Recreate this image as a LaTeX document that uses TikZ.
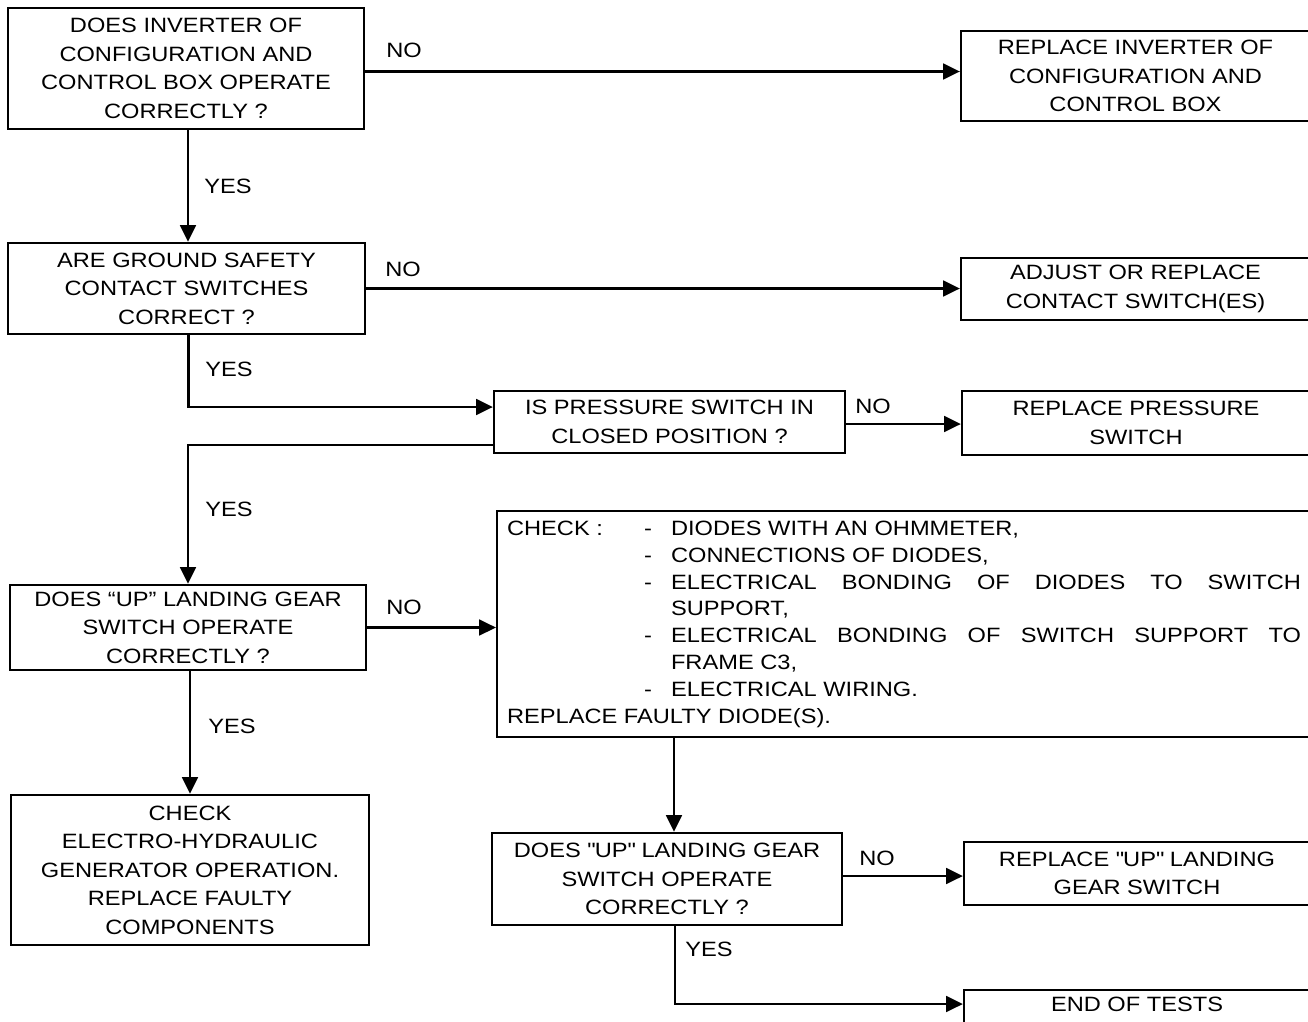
\documentclass[tikz,border=0pt]{standalone}
\usepackage{fontspec}
\setmainfont{Liberation Sans}[FakeStretch=1.14]
\usepackage{array}
\usetikzlibrary{arrows.meta, positioning, calc}
\newcommand{\boxfont}{\fontsize{11.8}{16.2}\selectfont}
\newcommand{\sq}{\XeTeXglyph\XeTeXcharglyph"22\relax} % straight double quote
\tikzset{
x=0.02cm, y=-0.02cm, % one unit is one pixel of the drawing, y runs down
>={Triangle[length=9.5pt,width=9pt]}, % filled arrow heads
every path/.style={line width=1.35pt},
box/.style={draw, rectangle, align=center, inner sep=0pt, line width=1.35pt, font=\boxfont}, % every framed step
answer/.style={font=\boxfont, inner sep=0pt}, % YES / NO next to a connector
}

\begin{document}
\begin{tikzpicture}
  \fill[white] (0,0) rectangle (1308,1021);
  \useasboundingbox (0,0) rectangle (1308,1021);

  \node[box, minimum width=7.12cm, minimum height=2.42cm] (q1) at (186,68.5)
    {DOES INVERTER OF\\CONFIGURATION AND\\CONTROL BOX OPERATE\\CORRECTLY ?};
  \node[box, minimum width=6.98cm, minimum height=1.8cm] (r1) at (1135.5,76)
    {REPLACE INVERTER OF\\CONFIGURATION AND\\CONTROL BOX};
  \node[box, minimum width=7.14cm, minimum height=1.82cm] (q2) at (186.5,288.5)
    {ARE GROUND SAFETY\\CONTACT SWITCHES\\CORRECT ?};
  \node[box, minimum width=6.98cm, minimum height=1.24cm] (r2) at (1135.5,289)
    {ADJUST OR REPLACE\\CONTACT SWITCH(ES)};
  \node[box, minimum width=7.02cm, minimum height=1.24cm] (q3) at (669.5,422)
    {IS PRESSURE SWITCH IN\\CLOSED POSITION ?};
  \node[box, minimum width=6.96cm, minimum height=1.28cm] (r3) at (1136,423)
    {REPLACE PRESSURE\\SWITCH};
  \node[box, minimum width=7.12cm, minimum height=1.70cm] (q4) at (188,627.5)
    {DOES ``UP'' LANDING GEAR\\SWITCH OPERATE\\CORRECTLY ?};
  \node[box, minimum width=16.28cm, minimum height=4.52cm] (chk) at (904,624)
    {\fontsize{11.8}{15.3}\selectfont\renewcommand\arraystretch{1}%
     \begin{tabular}{@{}p{2.74cm}@{}p{0.54cm}@{}p{12.6cm}@{}}
     CHECK : & - & DIODES WITH AN OHMMETER,\\
             & - & CONNECTIONS OF DIODES,\\
             & - & ELECTRICAL BONDING OF DIODES TO SWITCH\linebreak SUPPORT,\\
             & - & ELECTRICAL BONDING OF SWITCH SUPPORT TO\linebreak FRAME C3,\\
             & - & ELECTRICAL WIRING.\\
     \multicolumn{3}{@{}l@{}}{REPLACE FAULTY DIODE(S).}
     \end{tabular}};
  \node[box, minimum width=7.16cm, minimum height=3.0cm] (gen) at (190,870)
    {CHECK\\ELECTRO-HYDRAULIC\\GENERATOR OPERATION.\\REPLACE FAULTY\\COMPONENTS};
  \node[box, minimum width=7.0cm, minimum height=1.84cm] (q5) at (667,879)
    {DOES \sq UP\sq{} LANDING GEAR\\SWITCH OPERATE\\CORRECTLY ?};
  \node[box, minimum width=6.92cm, minimum height=1.26cm] (r5) at (1137,873.5)
    {REPLACE \sq UP\sq{} LANDING\\GEAR SWITCH};
  \node[box, minimum width=6.92cm, minimum height=0.68cm, text depth=3.4pt] (end) at (1137,1007)
    {END OF TESTS};

  \node[answer] (no1) at (404,50) {NO};
  \node[answer] (yes1) at (228,186) {YES};
  \node[answer] (no2) at (403,269) {NO};
  \node[answer] (yes2) at (229,369) {YES};
  \node[answer] (no3) at (873,406) {NO};
  \node[answer] (yes3) at (229,509) {YES};
  \node[answer] (no4) at (404,607) {NO};
  \node[answer] (yes4) at (232,726) {YES};
  \node[answer] (no5) at (877,858) {NO};
  \node[answer] (yes5) at (709,949) {YES};

  \draw[->] ($(q1.east)+(0,3)$) -- ($(q1.east -| r1.west)+(0,3)$);
  \draw[->] ($(q1.south)+(2,0)$) -- ($(q1.south |- q2.north)+(2,0)$);
  \draw[->] (q2.east) -- (q2.east -| r2.west);
  \draw[->] ($(q2.south)+(2,0)$) |- ($(q3.west)+(0,-15)$);
  \draw[->] ($(q3.east)+(0,2)$) -- ($(q3.east -| r3.west)+(0,2)$);
  \draw[->] ($(q3.west)+(0,23)$) -| (q4.north);
  \draw[->] (q4.east) -- (q4.east -| chk.west);
  \draw[->] ($(q4.south)+(2,0)$) -- ($(q4.south |- gen.north)+(2,0)$);
  \draw[->] ($(q5.north |- chk.south)+(7,0)$) -- ($(q5.north)+(7,0)$);
  \draw[->] ($(q5.east)+(0,-3)$) -- ($(q5.east -| r5.west)+(0,-3)$);
  \draw[->] ($(q5.south)+(8,0)$) |- ($(end.west)+(0,-3)$);
\end{tikzpicture}
\end{document}
